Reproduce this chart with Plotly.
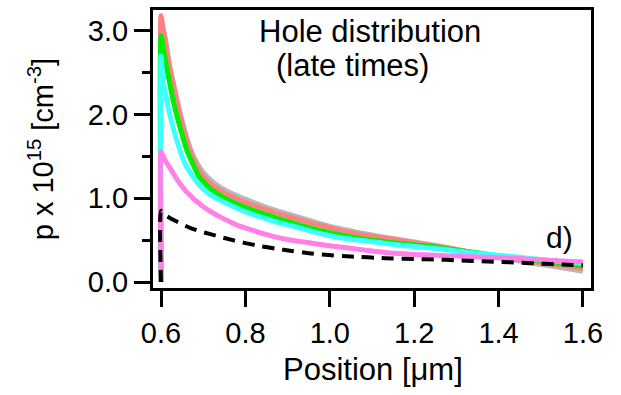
import plotly.graph_objects as go

# ---- data ----
pos = [0.6, 0.6, 0.605, 0.61, 0.615, 0.62, 0.63, 0.64, 0.65, 0.66, 0.67, 0.68, 0.69, 0.70,
       0.715, 0.735, 0.755, 0.78, 0.81, 0.84, 0.87, 0.91, 0.95, 0.99, 1.03, 1.07, 1.11,
       1.15, 1.2, 1.25, 1.3, 1.35, 1.4, 1.45, 1.5, 1.55, 1.6]

gray_y = [0.0, 3.14, 3.00, 2.89, 2.74, 2.59, 2.36, 2.13, 1.93, 1.74, 1.59, 1.47, 1.38, 1.31,
          1.23, 1.15, 1.09, 1.03, 0.97, 0.91, 0.86, 0.80, 0.74, 0.68, 0.63, 0.59, 0.55,
          0.52, 0.48, 0.44, 0.39, 0.34, 0.29, 0.25, 0.21, 0.17, 0.13]

salmon_y = [0.0, 3.18, 3.02, 2.90, 2.73, 2.57, 2.33, 2.10, 1.89, 1.70, 1.55, 1.43, 1.33, 1.26,
            1.18, 1.11, 1.05, 0.99, 0.93, 0.88, 0.83, 0.77, 0.71, 0.66, 0.61, 0.57, 0.54,
            0.51, 0.47, 0.43, 0.39, 0.34, 0.30, 0.27, 0.23, 0.20, 0.16]

green_y = [0.0, 2.94, 2.80, 2.65, 2.52, 2.39, 2.14, 1.94, 1.76, 1.59, 1.47, 1.36, 1.26, 1.20,
           1.12, 1.05, 0.99, 0.93, 0.87, 0.82, 0.77, 0.71, 0.65, 0.60, 0.555, 0.52, 0.495,
           0.47, 0.445, 0.42, 0.38, 0.35, 0.31, 0.28, 0.25, 0.22, 0.19]

cyan_y = [0.0, 2.70, 2.40, 2.27, 2.13, 2.02, 1.82, 1.65, 1.50, 1.38, 1.30, 1.23, 1.16, 1.11,
          1.05, 0.99, 0.94, 0.88, 0.82, 0.77, 0.72, 0.67, 0.615, 0.565, 0.525, 0.50, 0.475,
          0.45, 0.425, 0.40, 0.37, 0.345, 0.32, 0.295, 0.27, 0.245, 0.22]

pink_y = [0.0, 1.56, 1.50, 1.45, 1.41, 1.37, 1.29, 1.21, 1.14, 1.08, 1.03, 0.98, 0.94, 0.90,
          0.85, 0.79, 0.74, 0.68, 0.63, 0.58, 0.54, 0.50, 0.47, 0.44, 0.415, 0.39, 0.365,
          0.345, 0.33, 0.32, 0.31, 0.30, 0.29, 0.28, 0.265, 0.25, 0.24]

dash_x = [0.6, 0.6, 0.61, 0.63, 0.65, 0.67, 0.69, 0.715, 0.74, 0.77, 0.80, 0.835, 0.87, 0.91,
          0.95, 0.99, 1.03, 1.07, 1.11, 1.15, 1.2, 1.25, 1.3, 1.35, 1.4, 1.45, 1.5, 1.55, 1.6]
dash_y = [0.0, 0.85, 0.80, 0.74, 0.69, 0.645, 0.61, 0.575, 0.54, 0.50, 0.465, 0.43, 0.40, 0.37,
          0.345, 0.325, 0.31, 0.30, 0.29, 0.28, 0.275, 0.27, 0.26, 0.25, 0.24, 0.23, 0.22, 0.21, 0.20]

x_ticks = [0.6, 0.8, 1.0, 1.2, 1.4, 1.6]
x_ticklabels = ["0.6", "0.8", "1.0", "1.2", "1.4", "1.6"]
y_ticks = [0.0, 1.0, 2.0, 3.0]
y_ticklabels = ["0.0", "1.0", "2.0", "3.0"]

FONT = "Liberation Sans, Arial, sans-serif"

fig = go.Figure()
series = [
    (pos, gray_y, "#b8b8b8"),
    (pos, salmon_y, "#ff8080"),
    (pos, green_y, "#00ee00"),
    (pos, cyan_y, "#40ffff"),
    (pos, pink_y, "#ff80e6"),
]
for xs, ys, c in series:
    fig.add_trace(go.Scatter(x=xs, y=ys, mode="lines",
                             line=dict(color=c, width=5, shape="spline", smoothing=0.5),
                             showlegend=False, hoverinfo="skip"))
fig.add_trace(go.Scatter(x=dash_x, y=dash_y, mode="lines",
                         line=dict(color="black", width=4, dash="12px,8px",
                                   shape="spline", smoothing=0.5),
                         showlegend=False, hoverinfo="skip"))

axis_common = dict(showgrid=False, zeroline=False, showline=True, linecolor="black",
                   linewidth=3, mirror=True, ticks="outside", tickcolor="black",
                   tickwidth=3, ticklen=16,
                   tickfont=dict(family=FONT, size=29, color="black"))

fig.update_xaxes(range=[0.581, 1.619], tickvals=x_ticks, ticktext=x_ticklabels,
                 ticklabelstandoff=1, **axis_common)
fig.update_yaxes(range=[-0.071, 3.248], tickvals=y_ticks, ticktext=y_ticklabels,
                 minor=dict(dtick=0.5, tick0=0, ticks="outside", ticklen=8,
                            tickwidth=3, tickcolor="black"),
                 ticklabelstandoff=0, **axis_common)

annotations = [
    dict(text="Hole distribution", x=1.095, y=2.99, xref="x", yref="y",
         font=dict(family=FONT, size=31, color="black")),
    dict(text="(late times)", x=1.053, y=2.585, xref="x", yref="y",
         font=dict(family=FONT, size=31, color="black")),
    dict(text="d)", x=1.545, y=0.53, xref="x", yref="y",
         font=dict(family=FONT, size=30, color="black")),
    dict(text="Position [μm]", x=0.502, y=-0.292, xref="paper", yref="paper",
         font=dict(family=FONT, size=31, color="black")),
    dict(text="p x 10<sup>15</sup> [cm<sup>-3</sup>]", x=-0.255, y=0.5,
         xref="paper", yref="paper", textangle=-90,
         font=dict(family=FONT, size=29, color="black")),
]
for a in annotations:
    a.update(showarrow=False, xanchor="center", yanchor="middle")
fig.update_layout(annotations=annotations,
                  width=621, height=395,
                  margin=dict(l=153, r=30, t=7, b=107),
                  paper_bgcolor="white", plot_bgcolor="white")

fig.write_html("out.html")
